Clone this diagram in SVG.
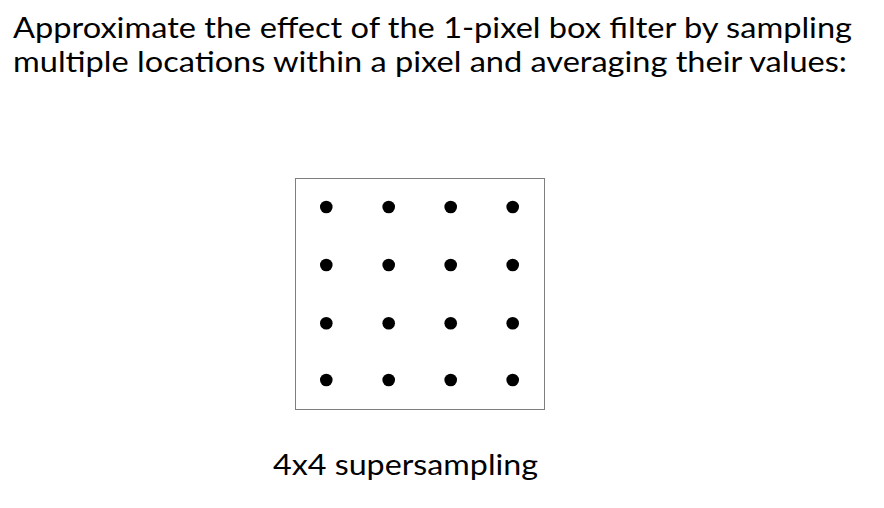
<svg xmlns="http://www.w3.org/2000/svg" width="884" height="508" viewBox="0 0 884 508">
<style>
.t{font-family:"Lato","Noto Sans","Liberation Sans",sans-serif;font-size:29px;fill:#000}
.d{fill:#000}
</style>
<rect width="884" height="508" fill="#fff"/>
<g id="title">
<text class="t" x="13" y="38" textLength="839" lengthAdjust="spacingAndGlyphs">Approximate the effect of the 1-pixel box filter by sampling</text>
<text class="t" x="13" y="72" textLength="834" lengthAdjust="spacingAndGlyphs">multiple locations within a pixel and averaging their values:</text>
</g>
<g id="pixel">
<rect x="295.5" y="178.5" width="249" height="231" fill="none" stroke="#7f7f7f" stroke-width="1"/>
</g>
<g id="samples">
<circle class="d" cx="326.3" cy="207" r="6.3"/><circle class="d" cx="388.7" cy="207" r="6.3"/><circle class="d" cx="450.7" cy="207" r="6.3"/><circle class="d" cx="512.7" cy="207" r="6.3"/>
<circle class="d" cx="326.3" cy="265" r="6.3"/><circle class="d" cx="388.7" cy="265" r="6.3"/><circle class="d" cx="450.7" cy="265" r="6.3"/><circle class="d" cx="512.7" cy="265" r="6.3"/>
<circle class="d" cx="326.3" cy="323.3" r="6.3"/><circle class="d" cx="388.7" cy="323.3" r="6.3"/><circle class="d" cx="450.7" cy="323.3" r="6.3"/><circle class="d" cx="512.7" cy="323.3" r="6.3"/>
<circle class="d" cx="326.3" cy="380" r="6.3"/><circle class="d" cx="388.7" cy="380" r="6.3"/><circle class="d" cx="450.7" cy="380" r="6.3"/><circle class="d" cx="512.7" cy="380" r="6.3"/>
</g>
<g id="caption">
<text class="t" x="273" y="475" textLength="265" lengthAdjust="spacingAndGlyphs">4x4 supersampling</text>
</g>
<g id="connectors"/>
</svg>
